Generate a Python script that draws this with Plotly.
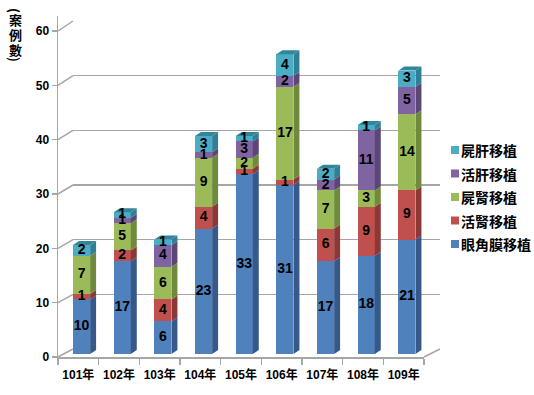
import plotly.graph_objects as go

years = ["101年", "102年", "103年", "104年", "105年", "106年", "107年", "108年", "109年"]
series_names = ["眼角膜移植", "活腎移植", "屍腎移植", "活肝移植", "屍肝移植"]
cornea = [10, 17, 6, 23, 33, 31, 17, 18, 21]
live_kidney = [1, 2, 4, 4, 1, 1, 6, 9, 9]
dead_kidney = [7, 5, 6, 9, 2, 17, 7, 3, 14]
live_liver = [0, 1, 4, 1, 3, 2, 2, 11, 5]
dead_liver = [2, 1, 1, 3, 1, 4, 2, 1, 3]
y_ticks = [0, 10, 20, 30, 40, 50, 60]
y_title_chars = ["(", "案", "例", "數", ")"]

values = [cornea, live_kidney, dead_kidney, live_liver, dead_liver]
front = ["#4F81BD", "#C0504D", "#9BBB59", "#8064A2", "#4BACC6"]
side = ["#36598A", "#8C3836", "#6F8A3C", "#5B4776", "#2F8096"]
topc = ["#5B8FCC", "#CF5E5B", "#A9C967", "#8E72B0", "#31869B"]

W, H = 534, 395
px = lambda p: p / W
py = lambda p: 1 - p / H

BW = 0.42
OFF = 0.08
DX = 0.147
DY = 0.73
FONT = "Liberation Sans, Noto Sans CJK TC, sans-serif"
CJK = "Noto Sans CJK TC, sans-serif"

fig = go.Figure()

# back wall grid subplot
fig.add_trace(go.Scatter(x=[0.5], y=[0], mode="markers", marker=dict(opacity=0),
                         hoverinfo="skip", showlegend=False, xaxis="x", yaxis="y"))

n = len(years)
xs = [i + OFF for i in range(n)]

# bars (front faces)
for k, name in enumerate(series_names):
    fig.add_trace(go.Bar(x=xs, y=values[k], name=name, width=BW,
                         marker=dict(color=front[k], line=dict(width=0)),
                         xaxis="x2", yaxis="y2", hoverinfo="skip", showlegend=False))

# side faces
totals = [sum(v[i] for v in values) for i in range(n)]
for k in range(len(series_names)):
    sx, sy = [], []
    for i in range(n):
        y0 = sum(values[j][i] for j in range(k))
        y1 = y0 + values[k][i]
        if values[k][i] == 0:
            continue
        xr = xs[i] + BW / 2
        sx += [xr, xr + DX, xr + DX, xr, xr, None]
        sy += [y0, y0 + DY, y1 + DY, y1, y0, None]
    fig.add_trace(go.Scatter(x=sx, y=sy, mode="lines", fill="toself", fillcolor=side[k],
                             line=dict(width=0), hoverinfo="skip", showlegend=False,
                             xaxis="x2", yaxis="y2"))

# top faces (top segment of each stack)
for k in range(len(series_names)):
    tx, ty = [], []
    for i in range(n):
        top_k = max(j for j in range(len(series_names)) if values[j][i] > 0)
        if top_k != k:
            continue
        xl = xs[i] - BW / 2
        xr = xs[i] + BW / 2
        t = totals[i]
        tx += [xl, xl + DX, xr + DX, xr, xl, None]
        ty += [t, t + DY, t + DY, t, t, None]
    if tx:
        fig.add_trace(go.Scatter(x=tx, y=ty, mode="lines", fill="toself", fillcolor=topc[k],
                                 line=dict(width=0), hoverinfo="skip", showlegend=False,
                                 xaxis="x2", yaxis="y2"))

# labels
lx, ly, lt = [], [], []
for k in range(len(series_names)):
    for i in range(n):
        v = values[k][i]
        if v == 0:
            continue
        y0 = sum(values[j][i] for j in range(k))
        lx.append(xs[i])
        ly.append(y0 + v / 2)
        lt.append(str(v))
fig.add_trace(go.Scatter(x=lx, y=ly, text=lt, mode="text",
                         textfont=dict(family=FONT, size=14, color="black", weight="bold"),
                         hoverinfo="skip", showlegend=False, xaxis="x2", yaxis="y2"))

# invisible trace for front axis
fig.add_trace(go.Scatter(x=[0], y=[0], mode="markers", marker=dict(opacity=0),
                         hoverinfo="skip", showlegend=False, xaxis="x2", yaxis="y3"))

# diagonal connectors
shapes = []
front_scale = (357 - 31) / 60.0
back_scale = (349 - 21) / 60.0
for v in y_ticks:
    shapes.append(dict(type="line", xref="paper", yref="paper",
                       x0=px(58), y0=py(357 - v * front_scale),
                       x1=px(73), y1=py(349 - v * back_scale),
                       line=dict(color="#A6A6A6", width=1.5), layer="below"))
shapes.append(dict(type="line", xref="paper", yref="paper",
                   x0=px(424), y0=py(357), x1=px(440), y1=py(349),
                   line=dict(color="#A6A6A6", width=1.5), layer="below"))

annotations = []
# manual legend (top item = last series)
legend_top = 150
legend_step = 23.5
for r, k in enumerate(reversed(range(len(series_names)))):
    yc = legend_top + r * legend_step
    shapes.append(dict(type="rect", xref="paper", yref="paper",
                       x0=px(451), x1=px(459), y0=py(yc - 4), y1=py(yc + 4),
                       fillcolor=front[k], line=dict(width=0)))
    annotations.append(dict(text=series_names[k], xref="paper", yref="paper",
                            x=px(460), y=py(yc), xanchor="left", yanchor="middle",
                            showarrow=False, borderpad=0,
                            font=dict(family=CJK, size=14, color="black", weight="bold")))

# vertical y-axis title (parentheses rotated)
title_y = [10, 19, 34, 49, 59]
title_angle = [90, 0, 0, 0, 90]
for ch, yc, ang in zip(y_title_chars, title_y, title_angle):
    annotations.append(dict(text=ch, xref="paper", yref="paper", x=px(15), y=py(yc),
                            xanchor="center", yanchor="middle", showarrow=False,
                            textangle=ang, borderpad=0,
                            font=dict(family=CJK, size=13, color="black", weight="bold")))

fig.update_layout(
    width=W, height=H,
    margin=dict(l=0, r=0, t=0, b=0, autoexpand=False),
    paper_bgcolor="white", plot_bgcolor="rgba(0,0,0,0)",
    barmode="stack",
    showlegend=False,
    xaxis=dict(domain=[px(73), px(440)], range=[0, 1], visible=False, fixedrange=True),
    yaxis=dict(domain=[py(349), py(21)], range=[-0.01, 60.01], dtick=10,
               showgrid=True, gridcolor="#A6A6A6", gridwidth=1.5,
               showticklabels=False, zeroline=False, showline=False, ticks="",
               fixedrange=True),
    xaxis2=dict(domain=[px(58), px(424)], range=[-0.5, n - 0.5], anchor="y2",
                tickvals=list(range(n)), ticktext=years, ticks="",
                showline=True, linecolor="#A6A6A6", linewidth=1.5,
                showgrid=False, zeroline=False,
                minor=dict(tickvals=[i - 0.5 for i in range(n + 1)], ticks="outside",
                           ticklen=6, tickcolor="#A6A6A6", tickwidth=1.5),
                ticklabelstandoff=6,
                tickfont=dict(family=FONT, size=12, color="black", weight="bold"),
                fixedrange=True),
    yaxis2=dict(domain=[py(357), py(16)], range=[-3 / 5.45, 62], visible=False,
                anchor="x2", fixedrange=True),
    yaxis3=dict(overlaying="y2", anchor="x2", side="left",
                range=[0, (357 - 16) / front_scale],
                tickvals=y_ticks, ticks="outside", ticklen=5, tickcolor="#A6A6A6",
                tickwidth=1.5, showline=True, linecolor="#A6A6A6", linewidth=1.5,
                showgrid=False, zeroline=False,
                tickfont=dict(family=FONT, size=12, color="black", weight="bold"),
                fixedrange=True),
    shapes=shapes,
    annotations=annotations,
)

fig.write_html("out.html", config={"displayModeBar": False, "staticPlot": True},
               post_script="document.body.style.margin='0px';document.body.style.overflow='hidden';")
